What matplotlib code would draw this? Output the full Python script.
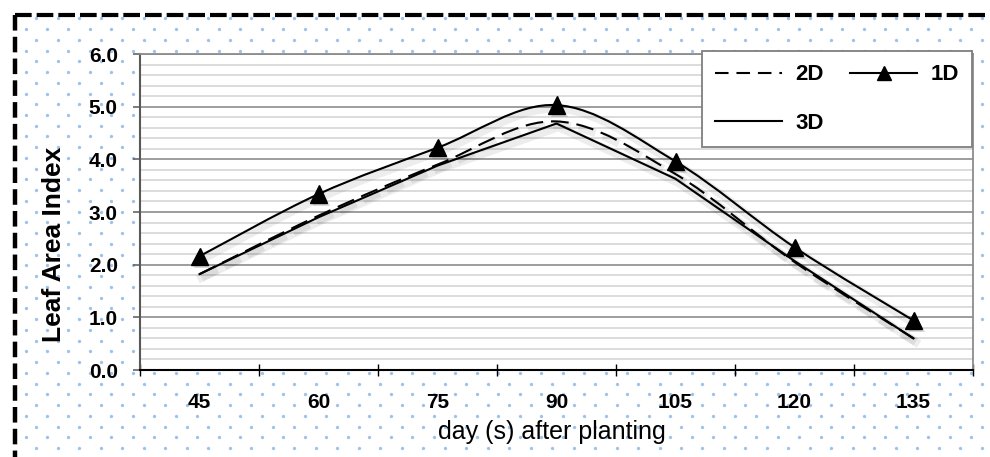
import matplotlib
matplotlib.use('Agg')
import matplotlib.pyplot as plt
import matplotlib.patheffects as pe
from matplotlib.path import Path
from matplotlib.patches import PathPatch
from matplotlib.lines import Line2D
from matplotlib.ticker import MultipleLocator
import numpy as np

plt.rcParams['font.family'] = ['Liberation Sans', 'DejaVu Sans']

# data
days = ['45', '60', '75', '90', '105', '120', '135']
lai_1d = [2.16, 3.34, 4.22, 5.03, 3.96, 2.33, 0.94]
lai_2d = [1.82, 2.93, 3.90, 4.72, 3.72, 2.05, 0.60]
lai_3d = [1.82, 2.90, 3.88, 4.68, 3.63, 2.07, 0.60]
y_ticks = [0, 1, 2, 3, 4, 5, 6]


def smooth_path(xs, ys):
    # excel-like smoothed line: cubic bezier through every point
    p = np.column_stack([xs, ys]).astype(float)
    pp = np.vstack([p[0], p, p[-1]])
    verts = [p[0]]
    codes = [Path.MOVETO]
    for i in range(len(p) - 1):
        c1 = pp[i + 1] + (pp[i + 2] - pp[i]) / 6
        c2 = pp[i + 2] - (pp[i + 3] - pp[i + 1]) / 6
        verts += [c1, c2, pp[i + 2]]
        codes += [Path.CURVE4] * 3
    return Path(verts, codes)


W, H = 990, 457
fig = plt.figure(figsize=(W / 100, H / 100), dpi=100)
fig.patch.set_facecolor('white')

# background: dotted fill + dashed border
bg = fig.add_axes([0, 0, 1, 1], zorder=-1)
bg.set_xlim(0, W)
bg.set_ylim(H, 0)
bg.axis('off')
step = 21.49
rows = np.arange(18.3, H + 5, step / 2)
for k, yy in enumerate(rows):
    x0 = 36.3 if k % 2 == 0 else 25.5
    xx = np.arange(x0, W + 5, step)
    bg.plot(xx, np.full_like(xx, yy), ls='none', marker='o', ms=2.4,
            mec='none', mfc='#9fc2ec')
bg.plot([15, 1000], [14.5, 14.5], color='k', lw=3.0, dashes=(4.0, 1.2),
        dash_capstyle='butt')
bg.plot([15, 15], [14.5, 470], color='k', lw=3.2, dashes=(3.5, 1.4),
        dash_capstyle='butt')

ax = fig.add_axes([140 / W, 87 / H, 833 / W, 316 / H])
ax.set_facecolor('white')

x = np.arange(len(days))
shadow = [pe.SimpleLineShadow(offset=(1.5, -2.5), shadow_color='k',
                              alpha=0.07, linewidth=6), pe.Normal()]

p2 = PathPatch(smooth_path(x, lai_2d), fill=False, edgecolor='k', lw=1.5,
               linestyle=(0, (8.5, 3.8)), zorder=3, path_effects=shadow)
ax.add_patch(p2)
ax.plot(x, lai_3d, color='k', lw=1.5, zorder=3, path_effects=shadow)
p1 = PathPatch(smooth_path(x, lai_1d), fill=False, edgecolor='k', lw=1.5,
               zorder=4, path_effects=shadow)
ax.add_patch(p1)
ax.plot(x, lai_1d, ls='none', marker='^', ms=12.5, color='k', zorder=5,
        path_effects=[pe.SimplePatchShadow(offset=(2, -2), alpha=0.15),
                      pe.Normal()])

ax.set_xlim(-0.5, len(days) - 0.5)
ax.set_ylim(0, 6)

ax.set_yticks(y_ticks)
ax.set_yticklabels(['%.1f' % v for v in y_ticks], fontsize=15,
                   fontweight='bold')
ax.yaxis.set_minor_locator(MultipleLocator(0.2))
ax.grid(axis='y', which='major', color='#8c8c8c', lw=1.2)
ax.grid(axis='y', which='minor', color='#d6d6d6', lw=1.2)
ax.set_axisbelow(True)
ax.tick_params(axis='y', which='major', length=5, width=1.1,
               color='#595959', pad=11)
ax.tick_params(axis='y', which='minor', length=0)

ax.set_xticks(np.arange(-0.5, len(days), 1))
ax.set_xticklabels([])
ax.set_xticks(x, minor=True)
ax.set_xticklabels(days, minor=True, fontsize=15, fontweight='bold')
ax.tick_params(axis='x', which='major', direction='inout', length=9,
               width=1.0, color='k')
ax.tick_params(axis='x', which='minor', length=0, pad=16.5)

ax.spines['left'].set_color('#595959')
ax.spines['left'].set_linewidth(1.5)
ax.spines['bottom'].set_color('k')
ax.spines['bottom'].set_linewidth(1.5)
for s in ['top', 'right']:
    ax.spines[s].set_color('#8c8c8c')
    ax.spines[s].set_linewidth(1.3)

fig.text(54 / W, 1 - 244 / H, 'Leaf Area Index', rotation=90, ha='center',
         va='center', fontsize=19, fontweight='bold')
fig.text(552 / W, 1 - 438.5 / H, 'day (s) after planting', ha='center',
         va='baseline', fontsize=18)

handles = [Line2D([], [], color='k', lw=1.5, dashes=(6.5, 3.8)),
           Line2D([], [], color='k', lw=1.5),
           Line2D([], [], color='k', lw=1.5, marker='^', ms=10)]
leg = ax.legend(handles, ['2D', '3D', '1D'], ncol=2,
                loc='upper right', bbox_to_anchor=(972 / W, 1 - 51 / H),
                bbox_transform=fig.transFigure, borderaxespad=0,
                fancybox=False, frameon=True, handlelength=3.0,
                handletextpad=0.6, columnspacing=1.2, labelspacing=1.25,
                borderpad=0.6, prop={'size': 16, 'weight': 'bold'})
leg.get_frame().set_edgecolor('#7f7f7f')
leg.get_frame().set_linewidth(1.3)
leg.get_frame().set_alpha(1)
leg.set_zorder(10)

fig.savefig('out.png', dpi=100, facecolor='white')
